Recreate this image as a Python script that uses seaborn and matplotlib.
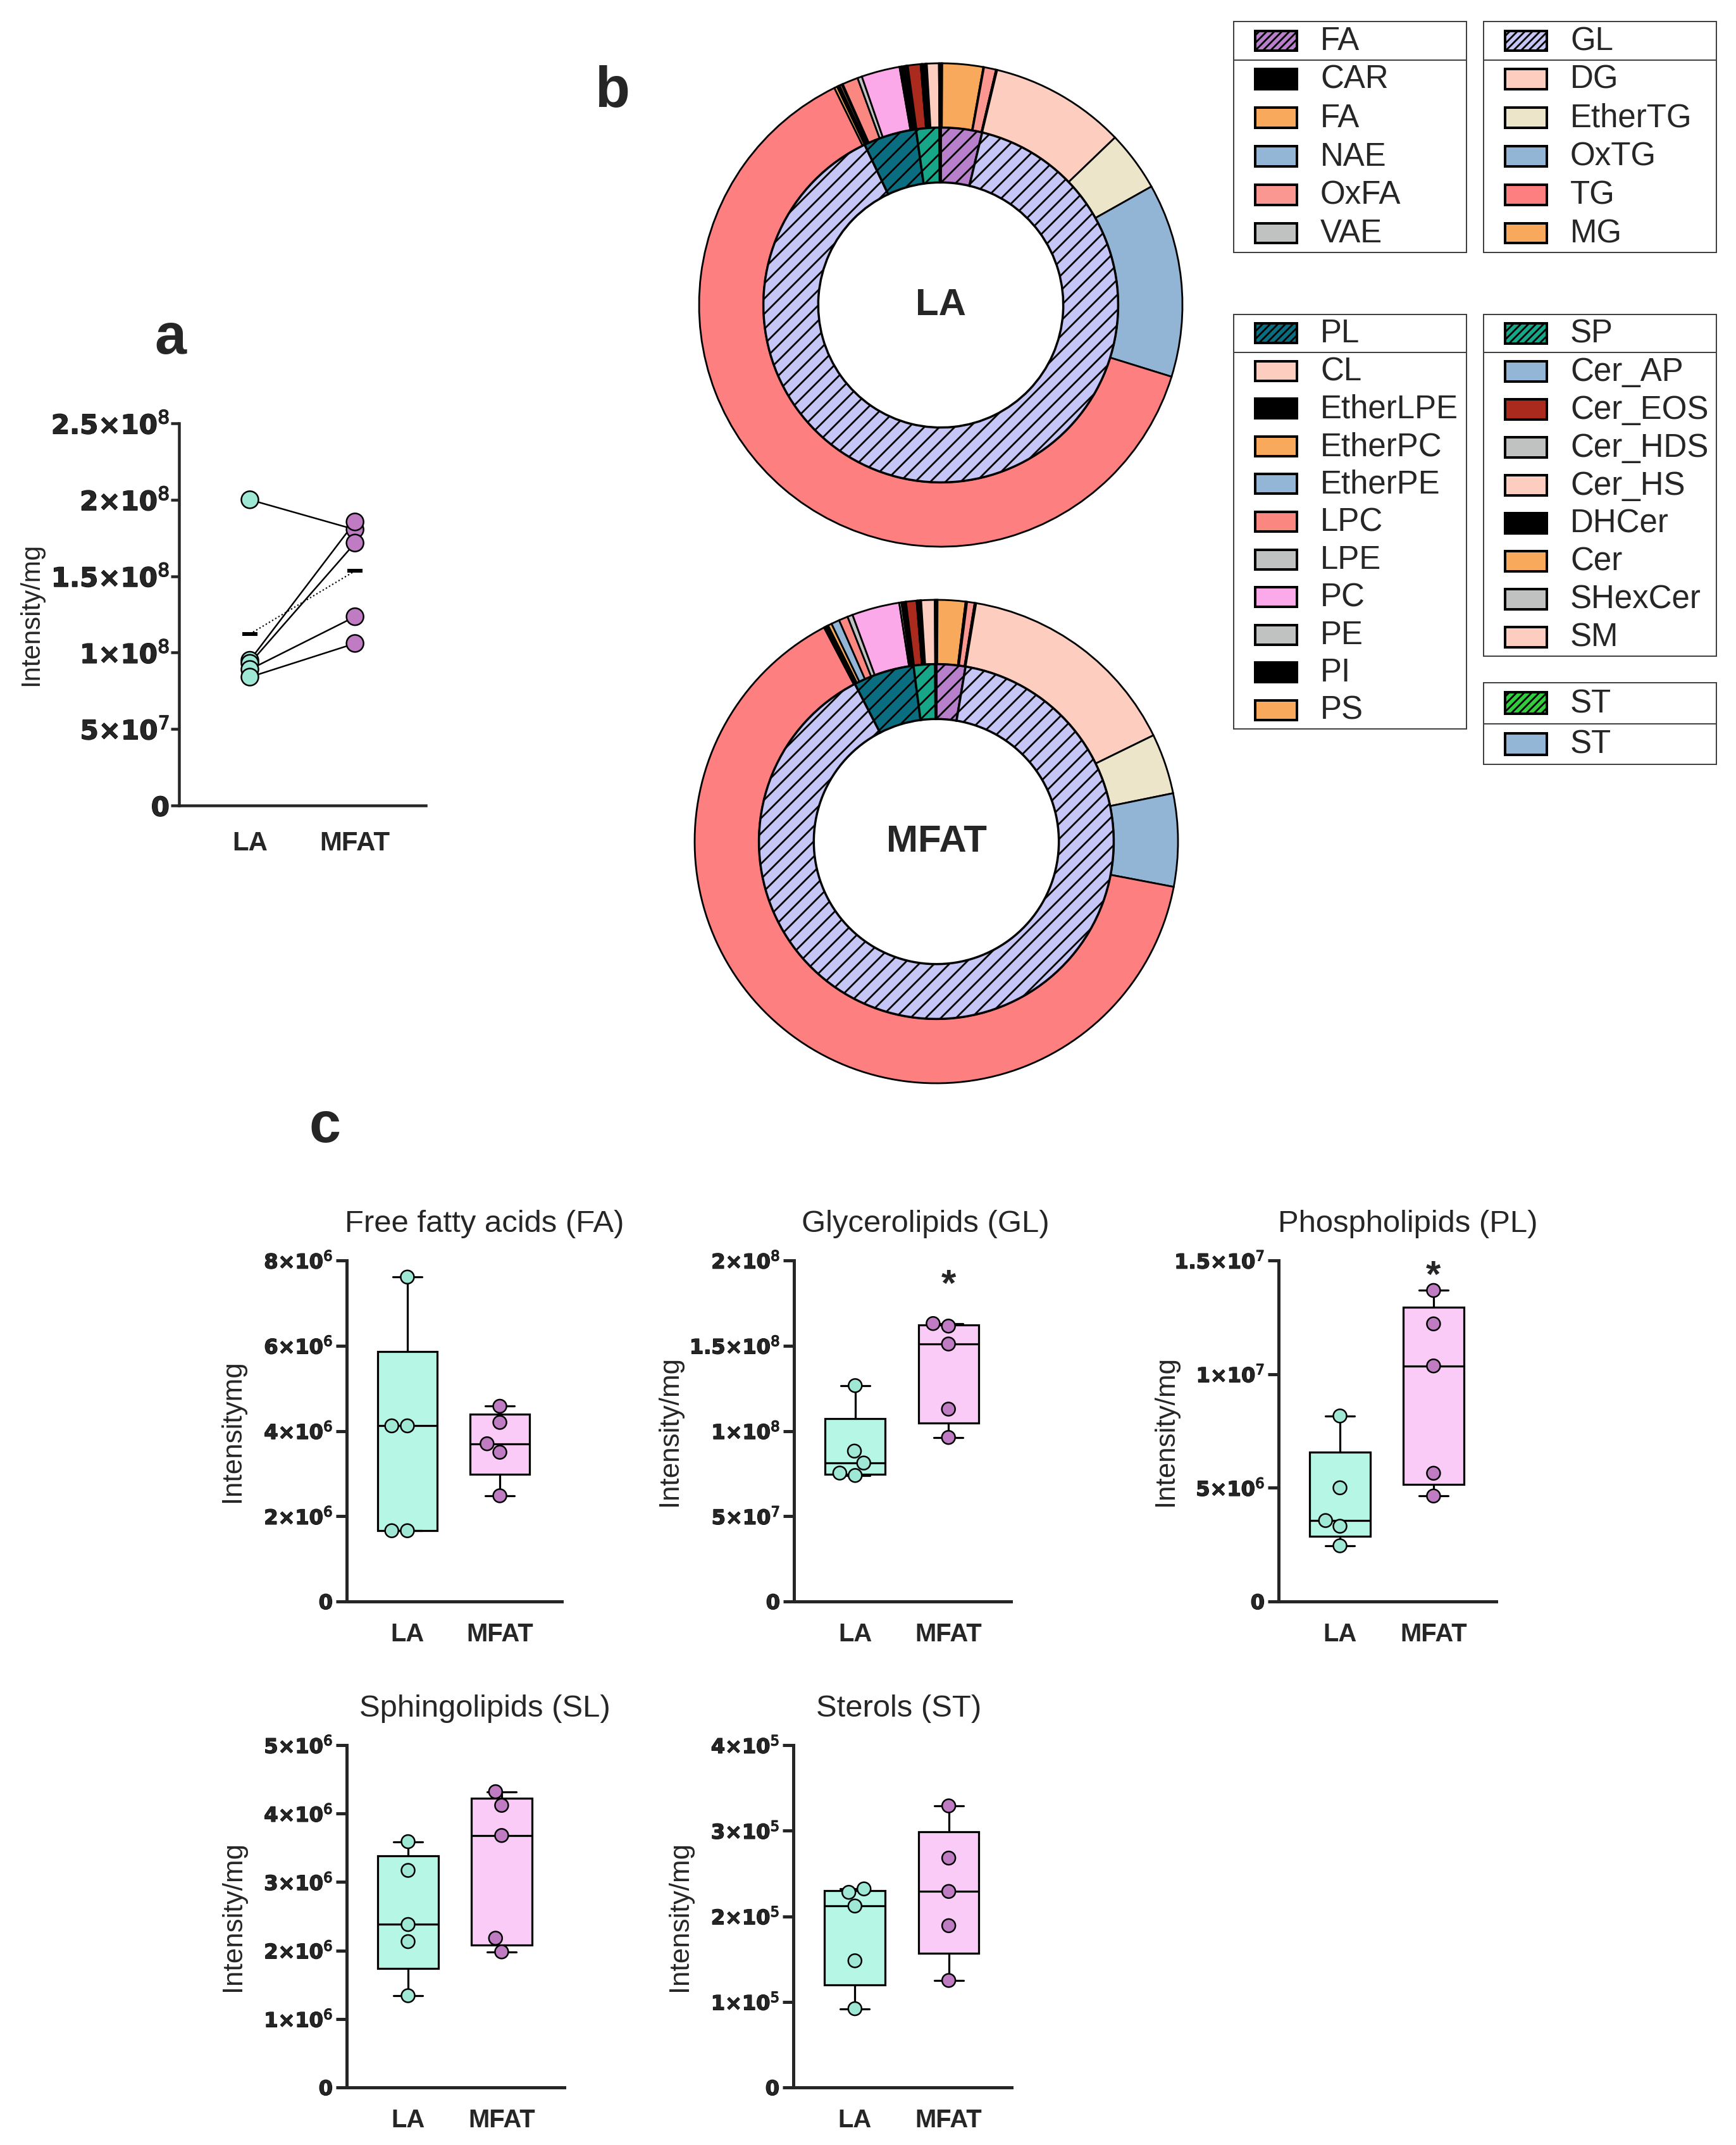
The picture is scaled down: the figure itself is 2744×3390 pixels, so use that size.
import numpy as np
import pandas as pd
import seaborn as sns
import matplotlib.pyplot as plt
import matplotlib.patheffects as pe
from matplotlib.patches import Rectangle

W, H, DPI = 2744, 3390, 144


def px(v):
    """Length in output pixels -> points."""
    return v * 72 / DPI


def rect(left, top, right, bottom):
    return [left / W, 1 - bottom / H, (right - left) / W, (bottom - top) / H]


groups = ["LA", "MFAT"]
box_colors = {"LA": "#b5f6e5", "MFAT": "#f9cbf6"}
dot_colors = {"LA": "#9fe8d6", "MFAT": "#c07cc3"}

# panel a - total intensity, paired samples
total_la = [200e6, 95e6, 93e6, 89e6, 84e6]
total_mfat = [180.5e6, 185.5e6, 171.7e6, 123.5e6, 106e6]
total_ticks = [0, 5e7, 1e8, 1.5e8, 2e8, 2.5e8]
total_ticklabels = ["0", r"$\mathbf{5{\times}10}^{7}$", r"$\mathbf{1{\times}10}^{8}$",
                    r"$\mathbf{1.5{\times}10}^{8}$", r"$\mathbf{2{\times}10}^{8}$",
                    r"$\mathbf{2.5{\times}10}^{8}$"]

# panel b - composition (%)
classes = ["FA", "GL", "PL", "SP", "ST"]
class_colors = ["#b880cb", "#c6c6f6", "#0b6d80", "#17a687", "#33cc3f"]

fa_sub = ["CAR", "FA", "NAE", "OxFA", "VAE"]
fa_sub_colors = ["#000000", "#f9a95b", "#93b5d6", "#fa9790", "#c0c2c2"]
la_fa_pct = [0.10, 2.72, 0.05, 0.80, 0.08]
mfat_fa_pct = [0.08, 1.85, 0.10, 0.50, 0.10]

gl_sub = ["DG", "EtherTG", "OxTG", "TG", "MG"]
gl_sub_colors = ["#fdcdbf", "#ece5c9", "#92b4d5", "#fe7f7f", "#f9a95b"]
la_gl_pct = [9.06, 4.03, 12.94, 62.92, 0.20]
mfat_gl_pct = [15.08, 4.03, 6.19, 64.14, 0.10]

pl_sub = ["CL", "EtherLPE", "EtherPC", "EtherPE", "LPC", "LPE", "PC", "PE", "PI", "PS"]
pl_sub_colors = ["#fdcdbf", "#000000", "#f9a95b", "#93b5d6", "#fa8880",
                 "#c0c2c2", "#fca9ea", "#c0c2c2", "#000000", "#f9a95b"]
la_pl_pct = [0.10, 0.08, 0.15, 0.08, 1.05, 0.30, 2.56, 0.12, 0.28, 0.10]
mfat_pl_pct = [0.10, 0.10, 0.25, 0.55, 0.60, 0.35, 3.17, 0.15, 0.15, 0.10]

sp_sub = ["Cer_AP", "Cer_EOS", "Cer_HDS", "Cer_HS", "DHCer", "Cer", "SHexCer", "SM"]
sp_sub_colors = ["#93b5d6", "#aa2a1e", "#c0c2c2", "#fdcdbf",
                 "#000000", "#f9a95b", "#c0c2c2", "#fdcdbf"]
la_sp_pct = [0.05, 0.85, 0.05, 0.06, 0.22, 0.04, 0.04, 0.80]
mfat_sp_pct = [0.05, 0.70, 0.05, 0.05, 0.12, 0.04, 0.04, 0.90]

st_sub = ["ST"]
st_sub_colors = ["#93b5d6"]
la_st_pct = [0.12]
mfat_st_pct = [0.10]

# panel c - per class intensity/mg
fa_la = [7.61e6, 4.12e6, 4.12e6, 1.66e6, 1.66e6]
fa_mfat = [4.58e6, 4.20e6, 3.70e6, 3.50e6, 2.48e6]
gl_la = [126.6e6, 88.2e6, 81.2e6, 75.3e6, 73.9e6]
gl_mfat = [163.0e6, 161.5e6, 151.0e6, 112.8e6, 96.2e6]
pl_la = [8.16e6, 5.00e6, 3.56e6, 3.31e6, 2.45e6]
pl_mfat = [13.68e6, 12.21e6, 10.36e6, 5.64e6, 4.64e6]
sl_la = [3.59e6, 3.17e6, 2.38e6, 2.13e6, 1.34e6]
sl_mfat = [4.32e6, 4.12e6, 3.68e6, 2.18e6, 1.98e6]
st_la = [2.32e5, 2.28e5, 2.12e5, 1.48e5, 0.92e5]
st_mfat = [3.29e5, 2.68e5, 2.29e5, 1.89e5, 1.25e5]

fa_ticks = [0, 2e6, 4e6, 6e6, 8e6]
fa_ticklabels = ["0", r"$\mathbf{2{\times}10}^{6}$", r"$\mathbf{4{\times}10}^{6}$",
                 r"$\mathbf{6{\times}10}^{6}$", r"$\mathbf{8{\times}10}^{6}$"]
gl_ticks = [0, 5e7, 1e8, 1.5e8, 2e8]
gl_ticklabels = ["0", r"$\mathbf{5{\times}10}^{7}$", r"$\mathbf{1{\times}10}^{8}$",
                 r"$\mathbf{1.5{\times}10}^{8}$", r"$\mathbf{2{\times}10}^{8}$"]
pl_ticks = [0, 5e6, 1e7, 1.5e7]
pl_ticklabels = ["0", r"$\mathbf{5{\times}10}^{6}$", r"$\mathbf{1{\times}10}^{7}$",
                 r"$\mathbf{1.5{\times}10}^{7}$"]
sl_ticks = [0, 1e6, 2e6, 3e6, 4e6, 5e6]
sl_ticklabels = ["0", r"$\mathbf{1{\times}10}^{6}$", r"$\mathbf{2{\times}10}^{6}$",
                 r"$\mathbf{3{\times}10}^{6}$", r"$\mathbf{4{\times}10}^{6}$",
                 r"$\mathbf{5{\times}10}^{6}$"]
st_ticks = [0, 1e5, 2e5, 3e5, 4e5]
st_ticklabels = ["0", r"$\mathbf{1{\times}10}^{5}$", r"$\mathbf{2{\times}10}^{5}$",
                 r"$\mathbf{3{\times}10}^{5}$", r"$\mathbf{4{\times}10}^{5}$"]

gl_star = 1.92e8
pl_star = 1.477e7

sns.set_style("ticks")
plt.rcParams["font.family"] = ["Liberation Sans", "DejaVu Sans"]
plt.rcParams["mathtext.fontset"] = "dejavusans"
plt.rcParams["hatch.linewidth"] = px(2.8)

fig = plt.figure(figsize=(W / DPI, H / DPI), dpi=DPI)
heavy = [pe.withStroke(linewidth=px(1.4), foreground="black")]


def style_axis(ax, ticks, labels, xlim, tick_px, spine_px, ticklen_px, xlab_px, xpad_px,
               ypad_px=5):
    sns.despine(ax=ax)
    for side in ["left", "bottom"]:
        ax.spines[side].set_linewidth(px(spine_px))
        ax.spines[side].set_capstyle("projecting")
    ax.set_ylim(0, ticks[-1])
    ax.set_xlim(*xlim)
    ax.set_yticks(ticks, labels, fontfamily="DejaVu Sans", fontweight="bold",
                  fontsize=px(tick_px))
    for t in ax.get_yticklabels():
        t.set_path_effects(heavy)
    ax.set_xticks([0, 1], groups, fontweight="bold", fontsize=px(xlab_px))
    ax.tick_params(axis="y", length=px(ticklen_px), width=px(spine_px), pad=px(ypad_px))
    ax.tick_params(axis="x", length=0, pad=px(xpad_px))
    ax.set_xlabel("")


# ---- panel a
ax_a = fig.add_axes(rect(283, 669, 673, 1273))
pairs = pd.DataFrame({
    "subject": np.tile(np.arange(len(total_la)), 2),
    "group": np.repeat(groups, len(total_la)),
    "value": total_la + total_mfat,
})
pairs["pos"] = pairs["group"].map({"LA": 0, "MFAT": 1})
ax_a.set_ylim(0, total_ticks[-1])
sns.lineplot(data=pairs, x="pos", y="value", units="subject", estimator=None,
             color="black", linewidth=px(2.5), ax=ax_a, zorder=1)
sns.pointplot(data=pairs, x="pos", y="value", native_scale=True, errorbar=None,
              color="black", markers="_", linestyles=":", markersize=px(24),
              markeredgewidth=px(6), linewidth=px(2.2), ax=ax_a, zorder=2)
sns.scatterplot(data=pairs, x="pos", y="value", hue="group", palette=dot_colors,
                s=px(27) ** 2, edgecolor="black", linewidth=px(2.5), legend=False,
                ax=ax_a, zorder=3)
style_axis(ax_a, total_ticks, total_ticklabels, (-0.674, 1.673), 42, 4.5, 13, 42, 40,
           ypad_px=2)
ax_a.set_ylabel("Intensity/mg", fontsize=px(42))
ax_a.yaxis.set_label_coords(-0.6, 0.5)
ax_a.yaxis.label.set_va("center")

# ---- panel b
sub_names = [fa_sub, gl_sub, pl_sub, sp_sub, st_sub]
sub_colors = [fa_sub_colors, gl_sub_colors, pl_sub_colors, sp_sub_colors, st_sub_colors]
la_pct = [la_fa_pct, la_gl_pct, la_pl_pct, la_sp_pct, la_st_pct]
mfat_pct = [mfat_fa_pct, mfat_gl_pct, mfat_pl_pct, mfat_sp_pct, mfat_st_pct]


def donut(center, radius, pct, label):
    cx, cy = center
    r = radius * 1.03
    ax = fig.add_axes(rect(cx - r, cy - r, cx + r, cy + r))
    outer = [v for vals in pct for v in vals]
    outer_cols = [c for cols in sub_colors for c in cols]
    inner = [sum(vals) for vals in pct]
    ax.pie(outer, colors=outer_cols, radius=1, startangle=90, counterclock=False,
           wedgeprops=dict(width=0.266, edgecolor="black", linewidth=px(2.8)))
    ax.pie(inner, colors=class_colors, radius=0.734, startangle=90, counterclock=False,
           hatch="//", wedgeprops=dict(width=0.227, edgecolor="black", linewidth=px(3.5)))
    ax.set_xlim(-1.03, 1.03)
    ax.set_ylim(-1.03, 1.03)
    ax.text(0, 0, label, ha="center", va="center", fontsize=px(60), fontweight="bold")


donut((1487, 482), 382, la_pct, "LA")
donut((1480, 1330), 382, mfat_pct, "MFAT")

legend_boxes = [(1950, 34, 2318, 399), (2345, 34, 2713, 399), (1950, 497, 2318, 1152),
                (2345, 497, 2713, 1037), (2345, 1079, 2713, 1208)]
for box, cls, ccol, names, cols in zip(legend_boxes, classes, class_colors,
                                       sub_names, sub_colors):
    lax = fig.add_axes(rect(*box))
    rows = [(cls, ccol, "////")] + [(n, c, None) for n, c in zip(names, cols)]
    lax.set_xlim(0, box[2] - box[0])
    lax.set_ylim(len(rows), 0)
    lax.set_xticks([])
    lax.set_yticks([])
    for sp in lax.spines.values():
        sp.set_linewidth(px(2))
        sp.set_edgecolor("#404040")
    lax.axhline(1, color="#404040", linewidth=px(2))
    for i, (name, col, hatch) in enumerate(rows):
        lax.add_patch(Rectangle((34, i + 0.5 - 0.26), 66, 0.52, facecolor=col,
                                edgecolor="black", linewidth=px(4), hatch=hatch))
        lax.text(137, i + 0.52, name, va="center", ha="left", fontsize=px(51))

# ---- panel c
box_panels = [
    ("Free fatty acids (FA)", fa_la, fa_mfat, fa_ticks, fa_ticklabels, "Intensitymg", None,
     (548, 1992, 888, 2531), 0.64, -0.53),
    ("Glycerolipids (GL)", gl_la, gl_mfat, gl_ticks, gl_ticklabels, "Intensity/mg", gl_star,
     (1255, 1992, 1598, 2531), 0.606, -0.574),
    ("Phospholipids (PL)", pl_la, pl_mfat, pl_ticks, pl_ticklabels, "Intensity/mg", pl_star,
     (2021, 1992, 2365, 2531), 0.593, -0.52),
    ("Sphingolipids (SL)", sl_la, sl_mfat, sl_ticks, sl_ticklabels, "Intensity/mg", None,
     (548, 2758, 892, 3299), 0.634, -0.523),
    ("Sterols (ST)", st_la, st_mfat, st_ticks, st_ticklabels, "Intensity/mg", None,
     (1254, 2758, 1599, 3299), 0.484, -0.52),
]


def gp_stats(vals):
    v = np.asarray(vals)
    q1, med, q3 = np.percentile(v, [25, 50, 75], method="weibull")
    return dict(med=med, q1=q1, q3=q3, whislo=v.min(), whishi=v.max(), fliers=[])


for title, la, mfat, ticks, labels, ylab, star, pos, title_x, ylab_x in box_panels:
    ax = fig.add_axes(rect(*pos))
    ax.set_ylim(0, ticks[-1])
    line = dict(color="black", linewidth=px(3.2))
    art = ax.bxp([gp_stats(la), gp_stats(mfat)], positions=[0, 1], widths=0.645,
                 capwidths=0.31, patch_artist=True, showfliers=False, manage_ticks=False,
                 boxprops=dict(edgecolor="black", linewidth=px(3.2)), medianprops=line,
                 whiskerprops=line, capprops=line, zorder=2)
    for patch, g in zip(art["boxes"], groups):
        patch.set_facecolor(box_colors[g])
    df = pd.DataFrame({"group": np.repeat(groups, len(la)), "value": la + mfat})
    sns.swarmplot(data=df, x="group", y="value", hue="group", order=groups,
                  hue_order=groups, palette=dot_colors, size=px(21), edgecolor="black",
                  linewidth=px(2.5), legend=False, ax=ax, zorder=3)
    style_axis(ax, ticks, labels, (-0.656, 1.67), 32, 5, 17, 40, 33)
    ax.set_ylabel(ylab, fontsize=px(44))
    ax.yaxis.set_label_coords(ylab_x, 0.5)
    ax.yaxis.label.set_va("center")
    ax.set_title(title, x=title_x, pad=px(45), fontsize=px(49))
    if star is not None:
        ax.annotate("*", xy=(1, star), xytext=(0, -px(34)), textcoords="offset points",
                    ha="center", va="baseline", fontsize=px(60), fontweight="bold")

fig.text(269 / W, 1 - 535 / H, "a", ha="center", va="center", fontsize=px(90),
         fontweight="bold")
fig.text(968 / W, 1 - 145 / H, "b", ha="center", va="center", fontsize=px(90),
         fontweight="bold")
fig.text(513 / W, 1 - 1782 / H, "c", ha="center", va="center", fontsize=px(90),
         fontweight="bold")

fig.savefig("out.png", dpi=DPI)
